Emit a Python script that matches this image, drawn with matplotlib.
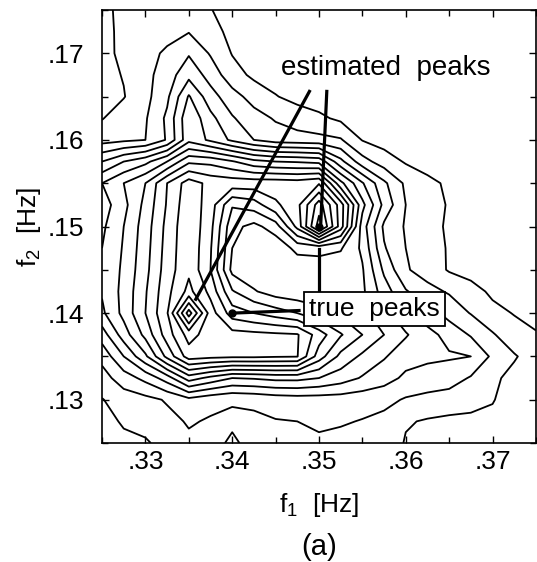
import numpy as np
import matplotlib.pyplot as plt
from matplotlib.ticker import MultipleLocator, FuncFormatter

plt.rcParams['font.family'] = ['Liberation Sans', 'DejaVu Sans']
plt.rcParams['mathtext.fontset'] = 'custom'
plt.rcParams['mathtext.rm'] = 'Liberation Sans'
plt.rcParams['mathtext.it'] = 'Liberation Sans'

# frequency grid [Hz]
f1 = [0.325, 0.3275, 0.33, 0.3325, 0.335, 0.3375, 0.34, 0.3425, 0.345, 0.3475, 0.35,
      0.3525, 0.355, 0.3575, 0.36, 0.3625, 0.365, 0.3675, 0.37, 0.3725, 0.375]
f2 = [0.175, 0.1725, 0.17, 0.1675, 0.165, 0.1625, 0.16, 0.1575, 0.155, 0.1525, 0.15,
      0.1475, 0.145, 0.1425, 0.14, 0.1375, 0.135, 0.1325, 0.13, 0.1275, 0.125]

# contour level, rows from f2 = .175 down to .125
spec = [
    [0, 1.0, 1.0, 1.0, 1.2, 0.55, 0, 0, 0, 0, 0, 0, 0, 0, 0, 0, 0, 0, 0, 0, 0],
    [0, 0.9, 1.0, 1.1, 1.45, 0.9, 0.2, 0, 0, 0, 0, 0, 0, 0, 0, 0, 0, 0, 0, 0, 0],
    [0.1, 0.8, 1.1, 1.7, 2.4, 1.4, 0.45, 0, 0, 0, 0, 0, 0, 0, 0, 0, 0, 0, 0, 0, 0],
    [0.2, 0.55, 1.2, 2.0, 3.2, 2.1, 0.9, 0.3, 0.1, 0, 0, 0, 0, 0, 0, 0, 0, 0, 0, 0, 0],
    [0.3, 0.45, 1.2, 2.3, 4.6, 2.9, 1.9, 1.1, 0.55, 0.2, 0, 0, 0, 0, 0, 0, 0, 0, 0, 0, 0],
    [0.45, 1.0, 1.4, 2.7, 5.3, 3.8, 2.6, 1.9, 1.4, 1.0, 0.7, 0.3, 0, 0, 0, 0, 0, 0, 0, 0, 0],
    [1.1, 1.3, 1.5, 2.6, 5.2, 4.3, 3.3, 2.5, 2.0, 1.9, 1.8, 1.6, 0.45, 0.1, 0, 0, 0, 0, 0, 0, 0],
    [3.5, 4.5, 5.2, 6.5, 8.3, 8.2, 7.6, 6.8, 6.5, 6.4, 6.2, 3.8, 1.9, 1.0, 0.4, 0, 0, 0, 0, 0, 0],
    [5.5, 6.5, 7.5, 9.5, 11.0, 10.2, 10.1, 10.1, 10.1, 10.0, 10.4, 6.8, 4.6, 2.7, 1.3, 0.8, 0.3, 0, 0, 0, 0],
    [5.0, 6.2, 7.8, 9.6, 11.2, 10.0, 7.6, 8.0, 9.3, 10.2, 13.0, 10.0, 5.8, 3.2, 1.5, 1.0, 0.4, 0, 0, 0, 0],
    [5.3, 6.5, 8.0, 9.8, 11.3, 9.8, 6.8, 6.2, 7.0, 9.8, 14.0, 10.0, 5.0, 2.3, 1.4, 1.0, 0.3, 0, 0, 0, 0],
    [5.5, 6.6, 8.1, 9.9, 11.3, 9.6, 6.5, 5.8, 5.8, 6.8, 6.8, 6.6, 5.3, 2.6, 1.5, 1.0, 0.4, 0.1, 0, 0, 0],
    [5.6, 6.7, 8.2, 10.0, 11.3, 9.5, 6.2, 5.8, 5.7, 5.8, 6.0, 5.9, 5.6, 3.3, 1.6, 1.1, 0.4, 0.1, 0, 0, 0],
    [5.6, 6.8, 8.4, 10.2, 11.8, 10.2, 7.6, 6.6, 6.0, 5.8, 5.9, 5.9, 5.7, 4.0, 2.6, 1.8, 1.4, 0.9, 0.3, 0, 0],
    [5.3, 6.8, 8.5, 10.4, 15.0, 11.0, 9.0, 8.5, 8.0, 7.5, 6.8, 6.3, 5.8, 4.8, 3.8, 3.0, 2.1, 1.45, 0.8, 0.45, 0.1],
    [4.0, 6.0, 7.8, 10.0, 11.9, 11.0, 10.9, 10.8, 10.7, 10.6, 9.0, 7.6, 6.5, 5.5, 4.6, 3.8, 3.2, 2.4, 1.6, 0.9, 0.6],
    [2.8, 4.5, 6.3, 8.8, 11.0, 10.8, 10.7, 10.7, 10.6, 10.55, 8.0, 6.2, 5.3, 4.6, 3.9, 3.7, 3.6, 3.5, 2.3, 1.6, 1.0],
    [2.1, 3.0, 3.8, 5.0, 7.0, 6.2, 5.5, 5.6, 5.8, 5.8, 5.5, 5.0, 4.4, 3.9, 3.3, 3.1, 3.0, 2.4, 1.7, 1.2, 1.0],
    [1.45, 2.0, 2.2, 2.6, 3.2, 2.8, 2.6, 2.7, 2.9, 3.0, 3.0, 3.0, 2.9, 2.8, 2.4, 2.2, 2.0, 1.8, 1.55, 1.1, 0.9],
    [1.2, 1.6, 1.8, 2.2, 2.6, 2.4, 2.3, 2.3, 2.45, 2.5, 2.7, 2.6, 2.45, 2.2, 1.6, 1.4, 1.3, 1.3, 1.3, 1.0, 0.8],
    [1.0, 1.3, 1.4, 1.8, 2.3, 2.1, 2.7, 2.1, 2.0, 2.0, 2.3, 2.2, 2.3, 2.3, 1.4, 1.2, 1.1, 1.1, 1.1, 1.0, 0.8],
]
levels = [0.5, 1.5, 2.5, 3.5, 4.5, 5.5, 6.5, 7.5, 8.5, 9.5, 10.5, 11.5, 12.5, 13.5, 14.5]

est_peaks = [(0.3358, 0.1416), (0.3502, 0.1502)]
true_peaks = [(0.34, 0.14), (0.35, 0.15)]

fig = plt.figure(figsize=(5.37, 5.62), dpi=100)
ax = fig.add_axes([0.19, 0.2117, 0.808, 0.7705])

ax.contour(f1, f2, spec, levels=levels, colors='k', linewidths=1.3)

# true peak dots
ax.plot([p[0] for p in true_peaks], [p[1] for p in true_peaks], 'o', color='k', ms=5)

# "estimated peaks" label with pointers
ax.text(0.3577, 0.1683, 'estimated  peaks', ha='center', va='center', fontsize=20)
ax.plot([0.3489, est_peaks[0][0]], [0.1656, est_peaks[0][1]], color='k', lw=2.3)
ax.plot([0.3509, est_peaks[1][0]], [0.1656, est_peaks[1][1]], color='k', lw=2.3)

# "true peaks" label with pointers
ax.text(0.3564, 0.1405, 'true  peaks', ha='center', va='center', fontsize=19,
        bbox=dict(boxstyle='square,pad=0.2', fc='white', ec='k', lw=1.3), zorder=5)
ax.plot([true_peaks[1][0], true_peaks[1][0]], [0.1424, 0.1474], color='k', lw=2.3)
ax.plot([0.3477, true_peaks[0][0]], [0.1403, true_peaks[0][1]], color='k', lw=2.3)

ax.set_xlim(0.325, 0.375)
ax.set_ylim(0.125, 0.175)
fmt = FuncFormatter(lambda v, p: ('%.2f' % v)[1:])
ax.xaxis.set_major_locator(MultipleLocator(0.01))
ax.yaxis.set_major_locator(MultipleLocator(0.01))
ax.xaxis.set_minor_locator(MultipleLocator(0.005))
ax.yaxis.set_minor_locator(MultipleLocator(0.005))
ax.xaxis.set_major_formatter(fmt)
ax.yaxis.set_major_formatter(fmt)
ax.tick_params(which='both', direction='in', top=True, right=True, labelsize=19, width=1.0)
ax.tick_params(which='major', length=5)
ax.tick_params(which='minor', length=4)
ax.tick_params(axis='x', which='major', pad=5)
ax.tick_params(axis='y', which='major', pad=13)
for s in ax.spines.values():
    s.set_linewidth(1.2)

ax.set_xlabel('f$_1$  [Hz]', fontsize=19, labelpad=12)
ax.set_ylabel('f$_2$  [Hz]', fontsize=19, labelpad=3)
fig.text(0.594, 0.027, '(a)', ha='center', va='center', fontsize=21)

fig.savefig('out.png', dpi=100)
